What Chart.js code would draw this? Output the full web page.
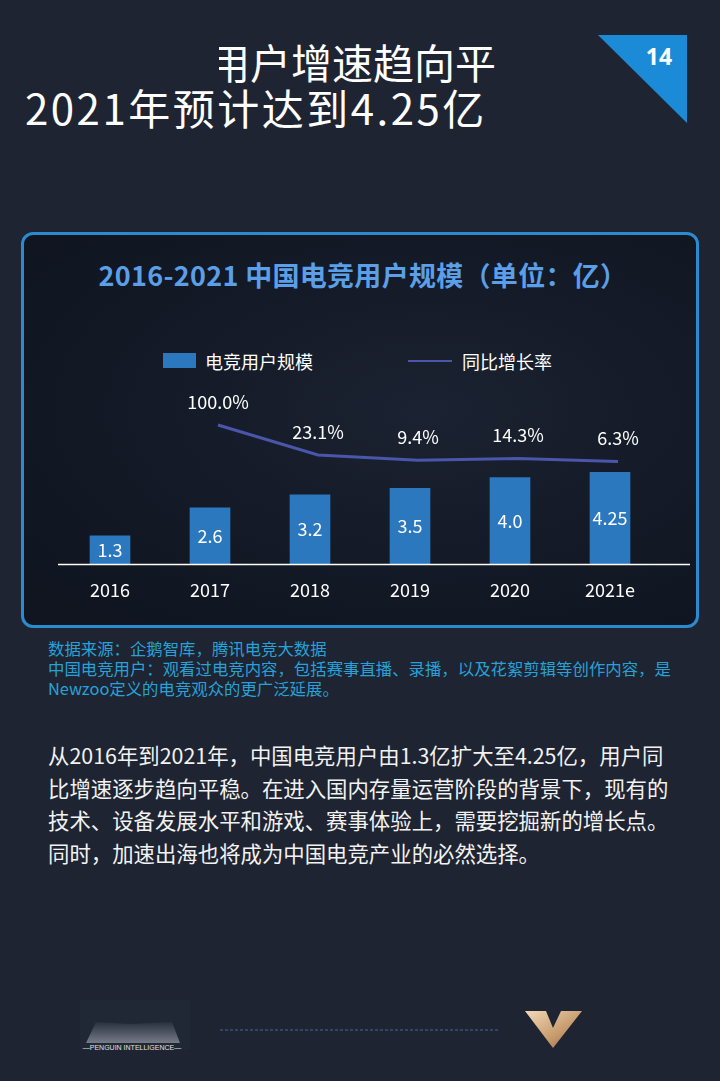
<!DOCTYPE html>
<html>
<head>
<meta charset="utf-8">
<script src="https://cdn.jsdelivr.net/npm/chart.js@4.4.0/dist/chart.umd.min.js"></script>
<style>
    html, body { margin: 0; padding: 0; }
    body {
        width: 720px; height: 1081px; position: relative; overflow: hidden;
        background: #1e2431;
        font-family: "Noto Sans CJK SC", "Noto Sans", sans-serif;
        color: #fff;
    }
    .abs { position: absolute; white-space: nowrap; }
    #head1 { left: 219px; top: 36px; width: 300px; height: 50px; overflow: hidden; }
    #head1 span { position: absolute; left: -10px; top: 0; font-size: 41px; line-height: 50px; }
    #head2 { left: 25px; top: 82px; font-size: 42px; line-height: 50px; letter-spacing: 2.5px; }
    #panel {
        left: 21px; top: 232px; width: 672px; height: 390px;
        border: 3px solid #2a8bd0; border-radius: 12px;
        background: radial-gradient(ellipse at 60% 45%, #1b2231 0%, #121824 60%, #0f141f 100%);
    }
    #chart-title {
        left: 25px; top: 258px; width: 676px; text-align: center;
        font-size: 27px; line-height: 34px; font-weight: bold; color: #5a9fe8;
        letter-spacing: 0.3px;
    }
    .legend-text { font-size: 18px; line-height: 24px; top: 349px; color: #fff; }
    #chart-wrap { left: 22px; top: 372px; width: 676px; height: 250px; }
    #note {
        left: 48px; top: 638px; font-size: 16.4px; line-height: 20px; color: #27a2d8;
    }
    #body-text {
        left: 48px; top: 739px; font-size: 21.4px; line-height: 32.5px; color: #f2f2f2;
    }
</style>
</head>
<body>
<div id="head1" class="abs"><span>用户增速趋向平</span></div>
<div id="head2" class="abs">2021年预计达到4.25亿</div>

<svg class="abs" style="left:0;top:0" width="720" height="1081">
    <polygon points="598,35 687,35 687,123" fill="#1b8bd8"/>
    <text x="659" y="65" fill="#ffffff" font-size="23" font-weight="bold" text-anchor="middle"
          font-family="Noto Sans, sans-serif">14</text>
    <defs>
        <linearGradient id="gold" x1="0" y1="0" x2="1" y2="1">
            <stop offset="0" stop-color="#f3d9b8"/>
            <stop offset="0.6" stop-color="#c69a6c"/>
            <stop offset="1" stop-color="#8a6440"/>
        </linearGradient>
        <linearGradient id="fog" x1="0" y1="0" x2="0" y2="1">
            <stop offset="0" stop-color="#2a3140"/>
            <stop offset="1" stop-color="#8a919c"/>
        </linearGradient>
    </defs>
    <rect x="80" y="1000" width="110" height="50" fill="#212835"/>
    <polygon points="86,1043 96,1022 130,1024 172,1022 180,1043" fill="url(#fog)" opacity="0.8"/>
    <text x="132" y="1050" fill="#e0e0e0" font-size="7" text-anchor="middle"
          font-family="Liberation Sans, sans-serif">—PENGUIN INTELLIGENCE—</text>
    <line x1="220" y1="1030" x2="500" y2="1030" stroke="#3f6a9a" stroke-width="1" stroke-dasharray="3,2"/>
    <polygon points="525,1011 546,1011 553,1028 561,1011 582,1011 553,1048" fill="url(#gold)"/>
</svg>

<div id="panel" class="abs"></div>
<div id="chart-title" class="abs">2016-2021 中国电竞用户规模（单位：亿）</div>

<div class="abs" style="left:163px;top:353px;width:33px;height:15px;background:#2b78bf"></div>
<div class="abs legend-text" style="left:205px">电竞用户规模</div>
<div class="abs" style="left:408px;top:360px;width:44px;height:2px;background:#4a55ab"></div>
<div class="abs legend-text" style="left:462px">同比增长率</div>

<div id="chart-wrap" class="abs"><canvas id="chart" width="676" height="250"></canvas></div>

<div id="note" class="abs">数据来源：企鹅智库，腾讯电竞大数据<br>中国电竞用户：观看过电竞内容，包括赛事直播、录播，以及花絮剪辑等创作内容，是<br>Newzoo定义的电竞观众的更广泛延展。</div>

<div id="body-text" class="abs">从2016年到2021年，中国电竞用户由1.3亿扩大至4.25亿，用户同<br>比增速逐步趋向平稳。在进入国内存量运营阶段的背景下，现有的<br>技术、设备发展水平和游戏、赛事体验上，需要挖掘新的增长点。<br>同时，加速出海也将成为中国电竞产业的必然选择。</div>

<script>
// 2016-2021 esports users (100M) and YoY growth (%)
const years = ['2016', '2017', '2018', '2019', '2020', '2021e'];
const users = [1.3, 2.6, 3.2, 3.5, 4.0, 4.25];
const userLabels = ['1.3', '2.6', '3.2', '3.5', '4.0', '4.25'];
const growth = [null, 100.0, 23.1, 9.4, 14.3, 6.3];
const growthLabels = ['', '100.0%', '23.1%', '9.4%', '14.3%', '6.3%'];

const BAR_COLOR = '#2b78bf';
const LINE_COLOR = '#4a55ab';
const FONT = '"Noto Sans CJK SC", "Noto Sans", sans-serif';

const growthPoints = growth
    .map((v, i) => ({ x: i, y: v }))
    .filter(p => p.y !== null);

// white baseline, a bit wider than the plot area
const baselinePlugin = {
    id: 'baseline',
    afterDatasetsDraw(chart) {
        const { ctx, chartArea, scales } = chart;
        const y = Math.round(scales.y.getPixelForValue(0)) + 0.5;
        ctx.save();
        ctx.strokeStyle = '#ffffff';
        ctx.lineWidth = 1.5;
        ctx.beginPath();
        ctx.moveTo(chartArea.left - 2, y);
        ctx.lineTo(chartArea.right + 30, y);
        ctx.stroke();
        ctx.restore();
    }
};

const valueLabelPlugin = {
    id: 'valueLabels',
    afterDatasetsDraw(chart) {
        const ctx = chart.ctx;
        ctx.save();
        ctx.fillStyle = '#ffffff';
        ctx.textAlign = 'center';
        ctx.textBaseline = 'middle';
        ctx.font = '18px ' + FONT;

        chart.getDatasetMeta(0).data.forEach((bar, i) => {
            ctx.fillText(userLabels[i], bar.x, (bar.y + bar.base) / 2);
        });

        chart.getDatasetMeta(1).data.forEach((pt, i) => {
            const idx = growthPoints[i].x;
            ctx.fillText(growthLabels[idx], pt.x, pt.y - 23);
        });
        ctx.restore();
    }
};

new Chart(document.getElementById('chart'), {
    data: {
        labels: years,
        datasets: [
            {
                type: 'bar',
                label: '电竞用户规模',
                data: users,
                backgroundColor: BAR_COLOR,
                barThickness: 40,
                grouped: false,
                xAxisID: 'x',
                yAxisID: 'y',
                order: 2
            },
            {
                type: 'line',
                label: '同比增长率',
                data: growthPoints,
                borderColor: LINE_COLOR,
                borderWidth: 3,
                pointRadius: 0,
                tension: 0,
                xAxisID: 'x2',
                yAxisID: 'y2',
                order: 1
            }
        ]
    },
    options: {
        responsive: false,
        animation: false,
        layout: { padding: { left: 38, right: 38, top: 8, bottom: 18 } },
        plugins: {
            legend: { display: false },
            tooltip: { enabled: false }
        },
        scales: {
            x: {
                type: 'category',
                offset: true,
                grid: { display: false, drawTicks: false },
                border: { display: false },
                ticks: { color: '#ffffff', font: { family: FONT, size: 18 }, padding: 15 },
                afterFit: scale => { scale.height = 40; }
            },
            x2: { type: 'linear', display: false, min: -0.58, max: 5.42 },
            y: { display: false, min: 0, max: 8.52 },
            y2: { display: false, min: -256.4, max: 215.4 }
        }
    },
    plugins: [baselinePlugin, valueLabelPlugin]
});
</script>
</body>
</html>
